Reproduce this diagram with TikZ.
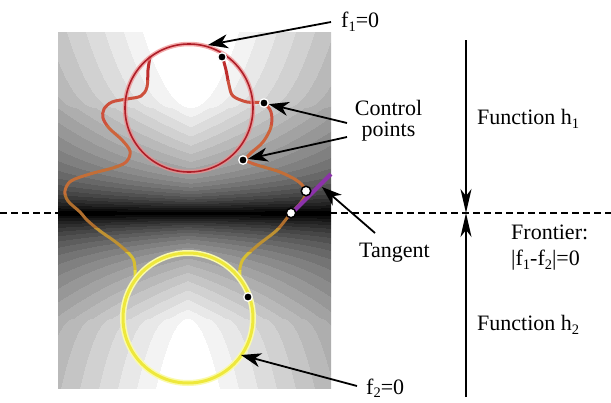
\documentclass[tikz,border=0pt]{standalone}
\usepackage{fontspec}
\setmainfont{Liberation Serif}
\usetikzlibrary{arrows.meta}
\newcommand{\sbs}[1]{\raisebox{-4pt}{\fontsize{14.5}{14.5}\selectfont #1}}
\pgfdeclarefunctionalshading{shtop}{\pgfpoint{0bp}{0bp}}{\pgfpoint{273bp}{181bp}}{}{
exch 133 sub abs 1 index 105 sub dup 0 lt {pop 0} if sqrt 5.5 mul sub dup 0 lt {pop 0} if 0.0024 mul 1 exch sub
exch 105 exch sub 105 div dup 0 lt {pop 0} if dup 5 exp 0.5 mul exch 0.5 mul add 1 exch sub mul
dup 0 lt {pop 0} if 22 mul floor 22 div dup dup
}
\pgfdeclarefunctionalshading{shbot}{\pgfpoint{0bp}{0bp}}{\pgfpoint{273bp}{175bp}}{}{
exch 130 sub abs 1 index 70 exch sub dup 0 lt {pop 0} if sqrt 3.8 mul sub dup 0 lt {pop 0} if 0.0024 mul 1 exch sub
exch 70 sub 105 div dup 0 lt {pop 0} if dup 1 gt {pop 1} if dup 5 exp 0.5 mul exch 0.5 mul add 1 exch sub mul
dup 0 lt {pop 0} if 22 mul floor 22 div dup dup
}
\definecolor{cA}{RGB}{190,45,45}
\definecolor{cB}{RGB}{205,80,60}
\definecolor{cC}{RGB}{205,100,60}
\definecolor{cD}{RGB}{195,110,55}
\definecolor{cE}{RGB}{175,110,45}
\definecolor{cF}{RGB}{190,145,50}
\definecolor{cG}{RGB}{215,190,50}
\definecolor{cH}{RGB}{230,220,60}
\definecolor{redglow}{RGB}{240,140,140}
\definecolor{reddark}{RGB}{175,30,40}
\definecolor{yelglow}{RGB}{250,250,170}
\definecolor{yelmain}{RGB}{238,232,60}
\definecolor{tanpurple}{RGB}{140,50,170}
\def\curveL{plot[smooth,tension=0.55] coordinates {(150,57) (148,70) (147,87) (141,96) (127,99) (112,102) (104,109) (103,118) (109,128) (122,140) (130,151) (127,161) (116,167) (90,174) (71,181) (65,191) (68,201) (80,212) (87,220) (100,231) (117,243) (132,257) (135,268) (135,281)}}
\def\curveR{plot[smooth,tension=0.55] coordinates {(222,55) (226,70) (229,85) (233,96) (247,102) (263,103) (271,112) (271,127) (263,142) (251,153) (246,160) (257,165) (280,172) (299,182) (306,193) (299,205) (291,213) (277,230) (258,245) (244,258) (240,268) (240,279)}}
\tikzset{
  lbl/.style={inner sep=0, font=\fontsize{22}{24}\selectfont},
  arr/.style={-{Stealth[length=20pt,width=14pt,inset=6pt]}, line width=1.8pt},
  varr/.style={-{Stealth[length=24pt,width=11pt,inset=7pt]}, line width=1.8pt},
  bdot/.style={circle, fill=black, draw=white, line width=1.3pt, inner sep=0, minimum size=8.5pt},
  wdot/.style={circle, fill=white, draw=black, line width=1.5pt, inner sep=0, minimum size=9.5pt},
  curve/.style={line width=3pt, line join=round, line cap=round},
}
\begin{document}
\begin{tikzpicture}[x=1pt,y=-1pt]
\useasboundingbox (0,0) rectangle (611,402);
% background fields
\node[inner sep=0, outer sep=0, anchor=south west] (bgtop) at (57,213) {\pgfuseshading{shtop}};
\node[inner sep=0, outer sep=0, anchor=north west] (bgbot) at (57,213) {\pgfuseshading{shbot}};
% frontier
\coordinate (dl) at (0,213);
\coordinate (dr) at (611,213);
\draw[line width=1.6pt, dash pattern=on 7pt off 4pt] (dl) -- (dr);
% blending curve, coloured by height
\foreach \ya/\yb/\col in {0/80/cA, 80/125/cB, 125/165/cC, 165/195/cD, 195/228/cE, 228/252/cF, 252/270/cG, 270/300/cH}{
  \begin{scope}
    \clip (0,\ya) rectangle (611,\yb);
    \draw[curve, draw=\col] \curveL;
    \draw[curve, draw=\col] \curveR;
  \end{scope}
}
% circles
\draw[line width=4.5pt, draw=redglow, opacity=0.7] (189,108) circle[radius=64];
\draw[line width=1.6pt, draw=reddark] (189,108) circle[radius=64];
\draw[line width=6pt, draw=yelglow] (188,318) circle[radius=65];
\draw[line width=3pt, draw=yelmain] (188,318) circle[radius=65];
% tangent
\coordinate (tanA) at (288,217);
\coordinate (tanB) at (331,174);
\draw[line width=4pt, draw=tanpurple] (tanA) -- (tanB);
% control points
\node[bdot] (c1) at (222,57) {};
\node[bdot] (c2) at (264,103) {};
\node[bdot] (c3) at (243,160) {};
\node[wdot] (c4) at (306,191) {};
\node[wdot] (c5) at (291,213) {};
\node[bdot] (c6) at (248,297) {};
% labels
\node[lbl, anchor=base west] (lf1) at (341,27) {f\sbs{1}=0};
\node[inner sep=0, font=\fontsize{22}{21}\selectfont, align=center, anchor=center] (lctrl) at (388.5,121) {Control\\points};
\node[lbl, anchor=base west] (ltan) at (359,257) {Tangent};
\node[lbl, anchor=base west] (lf2) at (366,394) {f\raisebox{-3pt}{\fontsize{14.5}{14.5}\selectfont 2}=0};
\node[lbl, anchor=base west] (lh1) at (477,124) {Function h\sbs{1}};
\node[lbl, anchor=base west] (lh2) at (477,330) {Function h\sbs{2}};
\node[lbl, anchor=base west] (lfr) at (511,239) {Frontier:};
\node[lbl, anchor=base west] (lfr2) at (511,265) {|f\sbs{1}-f\sbs{2}|=0};
% arrows
\coordinate (f1tail) at (331,22);
\coordinate (f1tip) at (208,45);
\draw[arr] (f1tail) -- (f1tip);
\coordinate (ct1) at (347,123);
\coordinate (ct2) at (347,137);
\draw[arr] (ct1) -- (c2);
\draw[arr] (ct2) -- (c3);
\coordinate (tantail) at (375,233);
\coordinate (tantip) at (322,187);
\draw[arr] (tantail) -- (tantip);
\coordinate (f2tail) at (357,386);
\coordinate (f2tip) at (241,355);
\draw[arr] (f2tail) -- (f2tip);
\coordinate (vtop) at (466,40);
\coordinate (vmid) at (466,213);
\coordinate (vbot) at (466,397);
\draw[varr] (vtop) -- (vmid);
\draw[varr] (vbot) -- (vmid);
\end{tikzpicture}
\end{document}
